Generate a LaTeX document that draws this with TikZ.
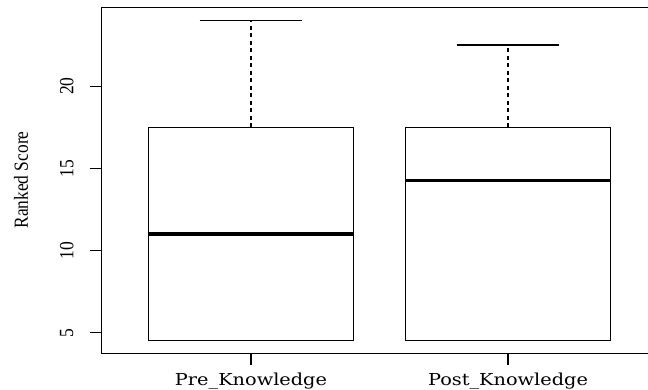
\documentclass[tikz,border=0pt]{standalone}
\usepackage{fontspec}
\setmainfont{Liberation Serif}
\newfontfamily\grpfont{DejaVu Serif}
\tikzset{
  frameline/.style={line width=1.1pt, line cap=rect},
  boxline/.style={line width=1.1pt},
  medianline/.style={line width=3.2pt},
  whisker/.style={line width=1.1pt, dash pattern=on 4pt off 3.5pt},
  capline/.style={line width=1.1pt},
  tickline/.style={line width=1.1pt},
  ticklabel/.style={font=\fontsize{17.5}{20}\selectfont, rotate=90, inner sep=0pt},
  grplabel/.style={font=\grpfont\fontsize{16.5}{19}\selectfont, inner sep=0pt, anchor=base},
}
% box with whisker: #1 = group position, #2 = lower hinge, #3 = median, #4 = upper hinge, #5 = upper whisker
\newcommand{\drawbox}[6]{%
  \draw[boxline] (#1-0.4,#2) rectangle (#1+0.4,#4);
  \draw[medianline] (#1-0.4,#3) -- (#1+0.4,#3);
  \coordinate (#6top) at (#1,#4);
  \coordinate (#6hi) at (#1,#5);
  \draw[whisker] (#6top) -- (#6hi);
  \draw[capline] (#1-0.2,#5) -- (#1+0.2,#5);
}
\begin{document}
\begin{tikzpicture}[x=1pt,y=1pt]
\clip (0,0) rectangle (648,390);
\fill[white] (0,0) rectangle (648,390);
\begin{scope}[x=257pt,y=16.44pt,shift={(-6pt,-24.9pt)}]
  % plotting frame (right edge falls outside the page)
  \draw[frameline] (0.42,3.72) rectangle (2.58,24.78);
  % boxes
  \drawbox{1}{4.5}{11}{17.5}{24}{pre}
  \drawbox{2}{4.5}{14.25}{17.5}{22.5}{post}
  % y axis ticks and labels
  \foreach \v in {5,10,15,20}{
    \draw[tickline] (0.3735,\v) -- (0.42,\v);
    \node[ticklabel] (ylab\v) at (0.283,\v) {\scalebox{1}[1.15]{\v}};
  }
  % x axis ticks
  \draw[tickline] (1,3.72) -- ++(0,-11pt);
  \draw[tickline] (2,3.72) -- ++(0,-11pt);
\end{scope}
% group labels
\node[grplabel] (g1) at (251,4) {\scalebox{1.17}[1]{Pre\_Knowledge}};
\node[grplabel] (g2) at (508,4) {\scalebox{1.17}[1]{Post\_Knowledge}};
% axis title
\node[font=\fontsize{17.4}{20}\selectfont, rotate=90, inner sep=0pt] (ytitle) at (21,210) {\scalebox{1}[1.15]{Ranked Score}};
\end{tikzpicture}
\end{document}
